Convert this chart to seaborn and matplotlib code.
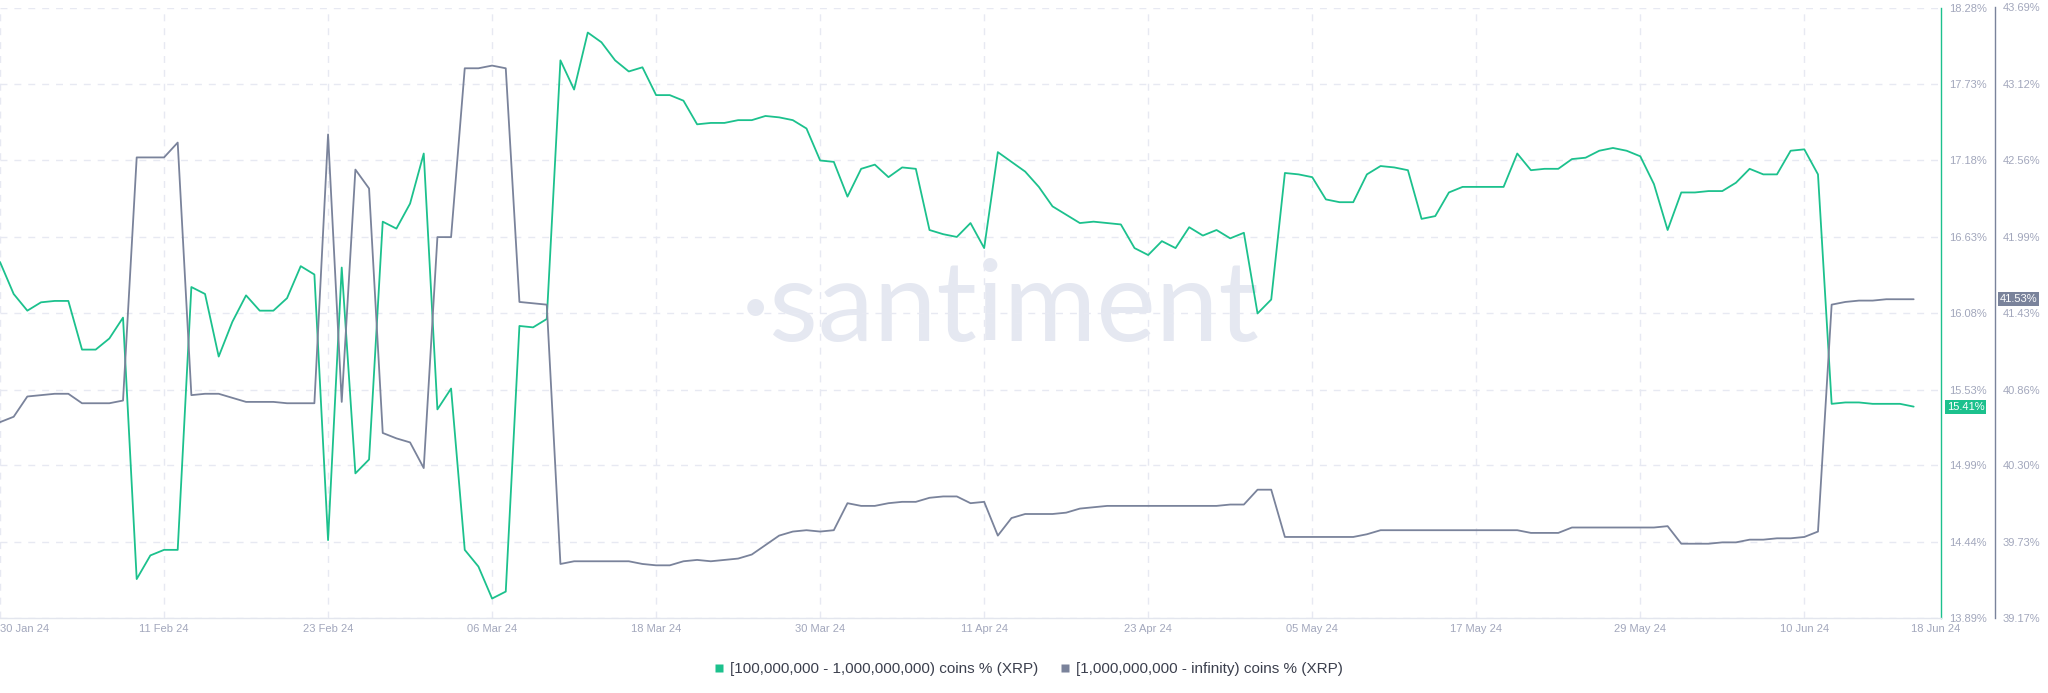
import matplotlib
matplotlib.use("Agg")
import matplotlib.pyplot as plt
from matplotlib.lines import Line2D
import pandas as pd
import seaborn as sns

START_DATE = "2024-01-30"

# [100,000,000 - 1,000,000,000) coins % (XRP), one value per day
mid_holders = [
    16.45, 16.22, 16.10, 16.16, 16.17, 16.17, 15.82, 15.82, 15.90, 16.05,
    14.17, 14.34, 14.38, 14.38, 16.27, 16.22, 15.77, 16.02, 16.21, 16.10,
    16.10, 16.19, 16.42, 16.36, 14.45, 16.41, 14.93, 15.03, 16.74, 16.69,
    16.87, 17.23, 15.39, 15.54, 14.38, 14.26, 14.03, 14.08, 15.99, 15.98,
    16.04, 17.90, 17.69, 18.10, 18.03, 17.90, 17.82, 17.85, 17.65, 17.65,
    17.61, 17.44, 17.45, 17.45, 17.47, 17.47, 17.50, 17.49, 17.47, 17.41,
    17.18, 17.17, 16.92, 17.12, 17.15, 17.06, 17.13, 17.12, 16.68, 16.65,
    16.63, 16.73, 16.55, 17.24, 17.17, 17.10, 16.99, 16.85, 16.79, 16.73,
    16.74, 16.73, 16.72, 16.55, 16.50, 16.60, 16.55, 16.70, 16.64, 16.68,
    16.62, 16.66, 16.08, 16.18, 17.09, 17.08, 17.06, 16.90, 16.88, 16.88,
    17.08, 17.14, 17.13, 17.11, 16.76, 16.78, 16.95, 16.99, 16.99, 16.99,
    16.99, 17.23, 17.11, 17.12, 17.12, 17.19, 17.20, 17.25, 17.27, 17.25,
    17.21, 17.01, 16.68, 16.95, 16.95, 16.96, 16.96, 17.02, 17.12, 17.08,
    17.08, 17.25, 17.26, 17.08, 15.43, 15.44, 15.44, 15.43, 15.43, 15.43,
    15.41,
]

# [1,000,000,000 - infinity) coins % (XRP), one value per day
whale_holders = [
    40.62, 40.66, 40.81, 40.82, 40.83, 40.83, 40.76, 40.76, 40.76, 40.78,
    42.58, 42.58, 42.58, 42.69, 40.82, 40.83, 40.83, 40.80, 40.77, 40.77,
    40.77, 40.76, 40.76, 40.76, 42.75, 40.77, 42.49, 42.35, 40.54, 40.50,
    40.47, 40.28, 41.99, 41.99, 43.24, 43.24, 43.26, 43.24, 41.51, 41.50,
    41.49, 39.57, 39.59, 39.59, 39.59, 39.59, 39.59, 39.57, 39.56, 39.56,
    39.59, 39.60, 39.59, 39.60, 39.61, 39.64, 39.71, 39.78, 39.81, 39.82,
    39.81, 39.82, 40.02, 40.00, 40.00, 40.02, 40.03, 40.03, 40.06, 40.07,
    40.07, 40.02, 40.03, 39.78, 39.91, 39.94, 39.94, 39.94, 39.95, 39.98,
    39.99, 40.00, 40.00, 40.00, 40.00, 40.00, 40.00, 40.00, 40.00, 40.00,
    40.01, 40.01, 40.12, 40.12, 39.77, 39.77, 39.77, 39.77, 39.77, 39.77,
    39.79, 39.82, 39.82, 39.82, 39.82, 39.82, 39.82, 39.82, 39.82, 39.82,
    39.82, 39.82, 39.80, 39.80, 39.80, 39.84, 39.84, 39.84, 39.84, 39.84,
    39.84, 39.84, 39.85, 39.72, 39.72, 39.72, 39.73, 39.73, 39.75, 39.75,
    39.76, 39.76, 39.77, 39.81, 41.49, 41.51, 41.52, 41.52, 41.53, 41.53,
    41.53,
]

mid_ticks = [13.89, 14.44, 14.99, 15.53, 16.08, 16.63, 17.18, 17.73, 18.28]
whale_ticks = [39.17, 39.73, 40.30, 40.86, 41.43, 41.99, 42.56, 43.12, 43.69]

date_ticks = [
    "2024-01-30", "2024-02-11", "2024-02-23", "2024-03-06", "2024-03-18",
    "2024-03-30", "2024-04-11", "2024-04-23", "2024-05-05", "2024-05-17",
    "2024-05-29", "2024-06-10",
]
date_tick_labels = [
    "30 Jan 24", "11 Feb 24", "23 Feb 24", "06 Mar 24", "18 Mar 24",
    "30 Mar 24", "11 Apr 24", "23 Apr 24", "05 May 24", "17 May 24",
    "29 May 24", "10 Jun 24",
]
last_date_label = "18 Jun 24"
x_end = "2024-06-20"

series_labels = [
    "[100,000,000 - 1,000,000,000) coins % (XRP)",
    "[1,000,000,000 - infinity) coins % (XRP)",
]

GREEN = "#1cc18d"
SLATE = "#7a839b"
GRID = "#e7e9f2"
TICK = "#a2a7bc"
WATERMARK = "#e5e8f1"


def build_frame() -> pd.DataFrame:
    dates = pd.date_range(START_DATE, periods=len(mid_holders), freq="D")
    return pd.DataFrame({"date": dates, "mid": mid_holders, "whale": whale_holders})


def main() -> None:
    frame = build_frame()

    sns.set_style("white")
    plt.rcParams["font.family"] = ["Liberation Sans", "DejaVu Sans"]

    fig = plt.figure(figsize=(20.48, 6.93), dpi=100)
    ax = fig.add_axes([0.0, 75 / 693, 1941 / 2048, 610.5 / 693])
    ax2 = ax.twinx()

    ax.text(1000 / 2048, 1 - 309 / 693, "\u00b7santiment", transform=fig.transFigure,
            ha="center", va="center", fontsize=81, color=WATERMARK,
            family=["Lato", "DejaVu Sans"], zorder=0)

    sns.lineplot(data=frame, x="date", y="mid", ax=ax, color=GREEN, linewidth=1.3)
    sns.lineplot(data=frame, x="date", y="whale", ax=ax2, color=SLATE, linewidth=1.3)

    ax.set_xlim(pd.Timestamp(START_DATE), pd.Timestamp(x_end))
    ax.set_ylim(mid_ticks[0], mid_ticks[-1])
    ax2.set_ylim(whale_ticks[0], whale_ticks[-1])

    ax.set_xticks(pd.to_datetime(date_ticks))
    ax.set_xticklabels(date_tick_labels)
    ax.get_xticklabels()[0].set_horizontalalignment("left")

    ax.yaxis.tick_right()
    ax.set_yticks(mid_ticks)
    ax.set_yticklabels([f"{v:.2f}%" for v in mid_ticks])
    ax2.set_yticks(whale_ticks)
    ax2.set_yticklabels([f"{v:.2f}%" for v in whale_ticks])

    for a in (ax, ax2):
        a.set_xlabel("")
        a.set_ylabel("")
        a.tick_params(axis="y", length=0, pad=5.5, labelcolor=TICK, labelsize=8)
    ax.tick_params(axis="x", length=0, pad=4.5, labelcolor=TICK, labelsize=8)

    ax.grid(True, color=GRID, linestyle=(0, (5, 5)), linewidth=1.0)
    ax.set_axisbelow(True)

    for side in ("left", "top"):
        ax.spines[side].set_visible(False)
        ax2.spines[side].set_visible(False)
    ax2.spines["bottom"].set_visible(False)
    ax.spines["right"].set_color(GREEN)
    ax.spines["right"].set_linewidth(1.0)
    ax.spines["bottom"].set_color("#e3e6ee")
    ax.spines["bottom"].set_linewidth(1.0)
    ax2.spines["right"].set_position(("outward", 54 * 72 / 100))
    ax2.spines["right"].set_color(SLATE)
    ax2.spines["right"].set_linewidth(1.0)

    ax.annotate(last_date_label, xy=(1.0, 0.0), xycoords="axes fraction",
                xytext=(-5, -11), textcoords="offset pixels", ha="center", va="center",
                fontsize=8, color=TICK, annotation_clip=False)

    ax.annotate(f"{mid_holders[-1]:.2f}%", xy=(1.0, mid_holders[-1]),
                xycoords=("axes fraction", "data"), xytext=(24.5, 0),
                textcoords="offset pixels", ha="center", va="center", fontsize=8,
                color="white", annotation_clip=False, zorder=5,
                bbox=dict(boxstyle="square,pad=0.18", fc=GREEN, ec="none"))
    ax2.annotate(f"{whale_holders[-1]:.2f}%", xy=(1.0, whale_holders[-1]),
                 xycoords=("axes fraction", "data"), xytext=(77.5, 0),
                 textcoords="offset pixels", ha="center", va="center", fontsize=8,
                 color="white", annotation_clip=False, zorder=5,
                 bbox=dict(boxstyle="square,pad=0.18", fc=SLATE, ec="none"))

    handles = [
        Line2D([], [], linestyle="none", marker="s", markersize=6,
               markerfacecolor=color, markeredgecolor="none", label=label)
        for color, label in zip((GREEN, SLATE), series_labels)
    ]
    fig.legend(handles=handles, loc="center", bbox_to_anchor=(0.502, 1 - 669 / 693),
               ncol=2, frameon=False, fontsize=11, handlelength=0.7,
               handletextpad=0.35, columnspacing=1.4, labelcolor="#3c404e")

    fig.savefig("out.png", dpi=100)
    plt.close(fig)


if __name__ == "__main__":
    main()
